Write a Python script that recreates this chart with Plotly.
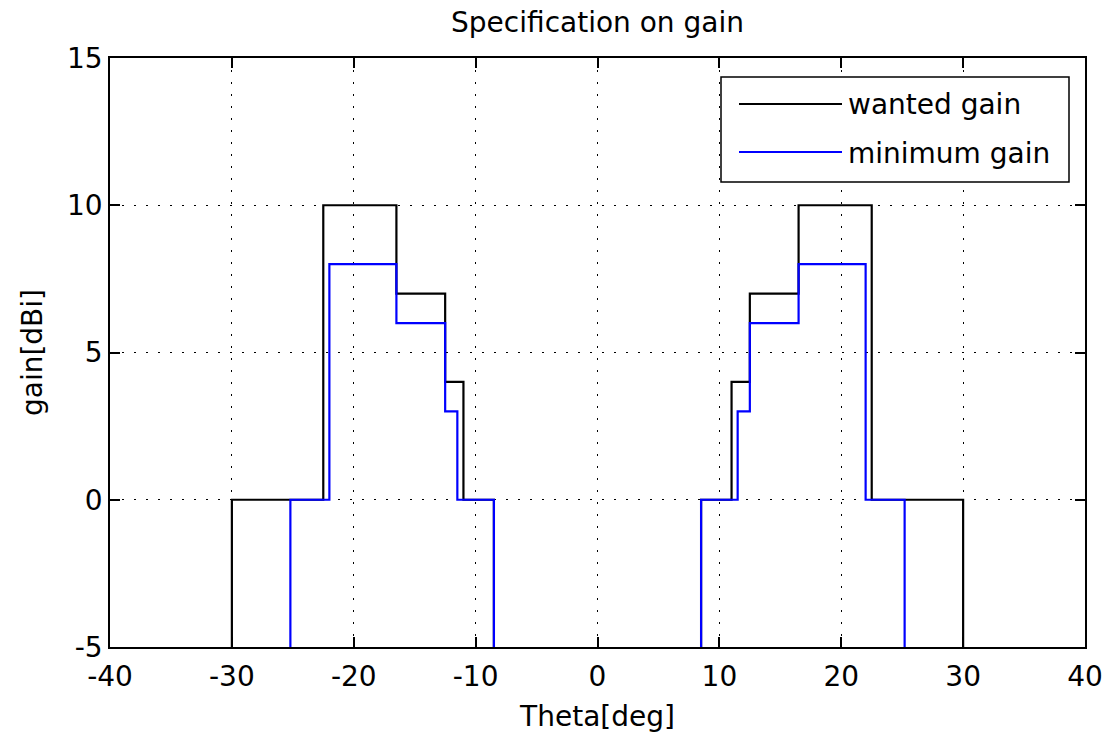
import plotly.graph_objects as go

# ---- data (step points, drawn with line_shape='hv') ----
wanted_theta = [-30, -30, -22.5, -16.5, -12.5, -11, -8.5, None,
                8.5, 8.5, 11, 12.5, 16.5, 22.5, 30]
wanted_gain = [-5, 0, 10, 7, 4, 0, -5, None,
               -5, 0, 4, 7, 10, 0, -5]

minimum_theta = [-25.2, -25.2, -22, -16.5, -12.5, -11.5, -8.5, None,
                 8.5, 8.5, 11.5, 12.5, 16.5, 22, 25.2]
minimum_gain = [-5, 0, 8, 6, 3, 0, -5, None,
                -5, 0, 3, 6, 8, 0, -5]

series_names = ["wanted gain", "minimum gain"]
series_colors = ["#000000", "#0000FF"]

x_ticks = [-40, -30, -20, -10, 0, 10, 20, 30, 40]
x_ticktext = ["-40", "-30", "-20", "-10", "0", "10", "20", "30", "40"]
y_ticks = [-5, 0, 5, 10, 15]
y_ticktext = ["-5", "0", "5", "10", "15"]

FONT = "DejaVu Sans"
FS = 28

fig = go.Figure()
fig.add_trace(go.Scatter(x=wanted_theta, y=wanted_gain, mode="lines",
                         line=dict(color=series_colors[0], width=2.2, shape="hv"),
                         name=series_names[0], connectgaps=False))
fig.add_trace(go.Scatter(x=minimum_theta, y=minimum_gain, mode="lines",
                         line=dict(color=series_colors[1], width=2.2, shape="hv"),
                         name=series_names[1], connectgaps=False))

W, H = 1105, 738
L, R, T, B = 110, 20, 58, 91
pw, ph = W - L - R, H - T - B


def px(xp):
    return (xp - L) / pw


def py(yp):
    return (H - B - yp) / ph


# manual legend (MATLAB style)
shapes = [
    dict(type="rect", xref="paper", yref="paper",
         x0=px(721), x1=px(1069), y0=py(182), y1=py(77),
         line=dict(color="black", width=1.5), fillcolor="white", layer="above"),
]
annotations = []
for i, (nm, col) in enumerate(zip(series_names, series_colors)):
    yy = 104 + 48 * i
    shapes.append(dict(type="line", xref="paper", yref="paper",
                       x0=px(739), x1=px(842), y0=py(yy), y1=py(yy),
                       line=dict(color=col, width=2), layer="above"))
    annotations.append(dict(xref="paper", yref="paper", x=px(846), y=py(yy + 1),
                            xanchor="left", yanchor="middle", text=nm,
                            showarrow=False,
                            font=dict(family=FONT, size=FS, color="black")))

fig.update_layout(
    width=W, height=H,
    margin=dict(l=L, r=R, t=T, b=B, pad=0, autoexpand=False),
    paper_bgcolor="white", plot_bgcolor="white",
    showlegend=False,
    font=dict(family=FONT, size=FS, color="black"),
    title=dict(text="Specification on gain", x=0.5, xref="paper",
               xanchor="center", y=1 - 22 / H, yref="container", yanchor="middle",
               font=dict(family=FONT, size=FS, color="black")),
    shapes=shapes,
    annotations=annotations,
)

axis_common = dict(
    showline=True, linecolor="black", linewidth=1.5, mirror="allticks",
    ticks="inside", ticklen=10, tickwidth=1.5, tickcolor="black",
    showgrid=True, gridcolor="black", gridwidth=1, griddash="2px,10px",
    zeroline=False, automargin=False,
    tickfont=dict(family=FONT, size=FS, color="black"),
)

fig.update_xaxes(range=[-40, 40], tickmode="array", tickvals=x_ticks, ticktext=x_ticktext,
                 ticklabelstandoff=4,
                 title=dict(text="Theta[deg]", standoff=14,
                            font=dict(family=FONT, size=FS, color="black")),
                 **axis_common)
fig.update_yaxes(range=[-5, 15], tickmode="array", tickvals=y_ticks, ticktext=y_ticktext,
                 title=dict(text="gain[dBi]", standoff=16,
                            font=dict(family=FONT, size=FS, color="black")),
                 **axis_common)

fig.write_html("out.html")
